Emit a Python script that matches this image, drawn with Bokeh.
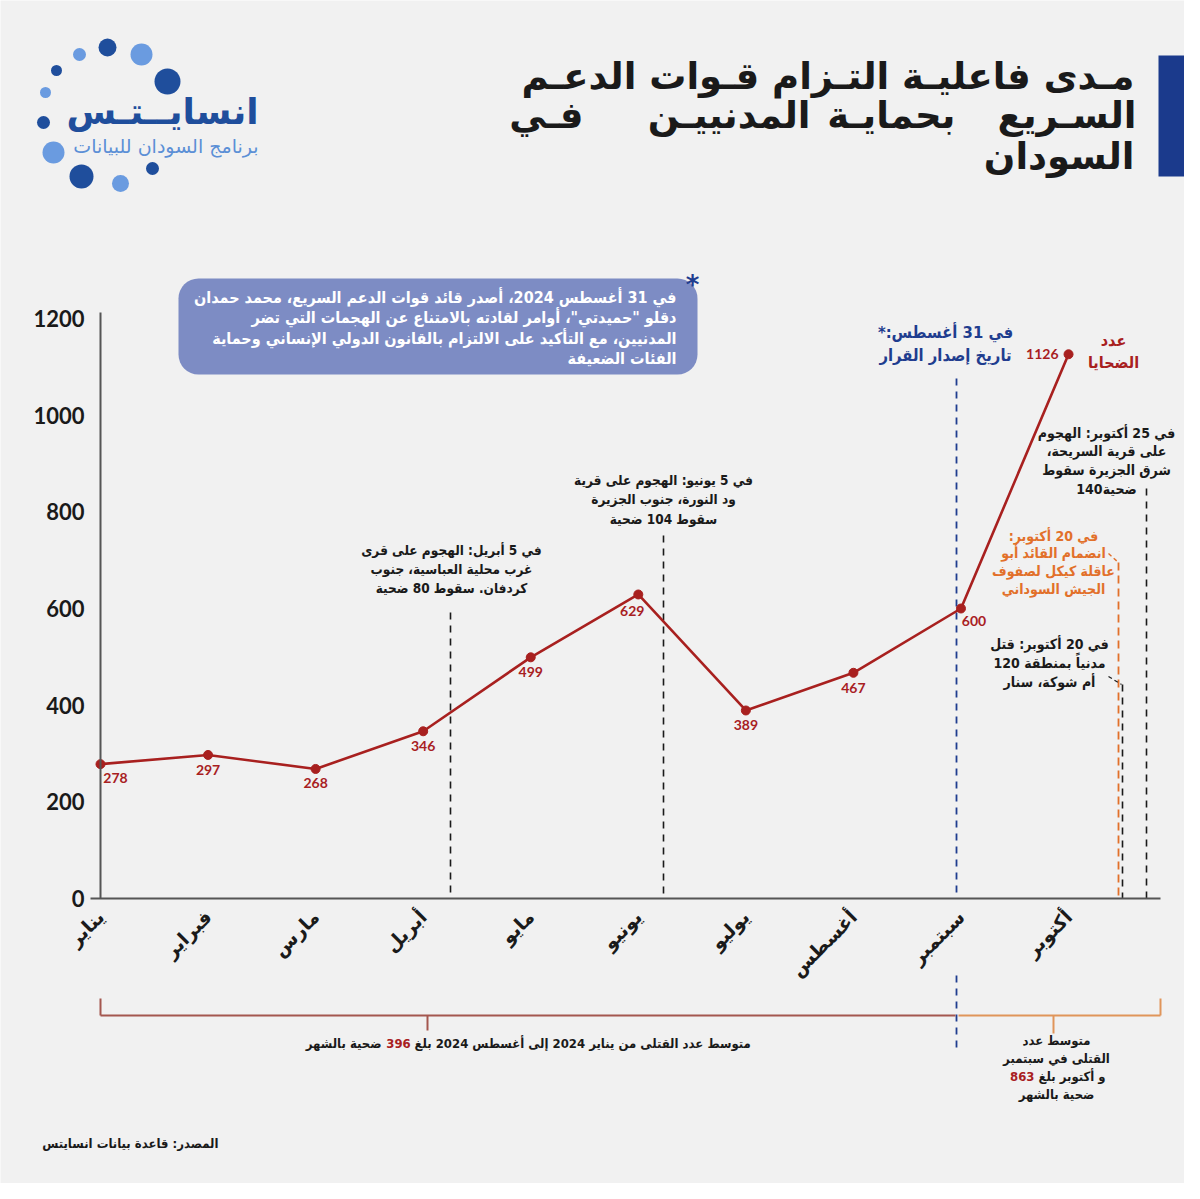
import math
from bokeh.plotting import figure
from bokeh.models import Range1d, LinearAxis, FixedTicker, BoxAnnotation
from bokeh.core.properties import value
from bokeh.embed import file_html
from bokeh.resources import INLINE

# ---------------- data ----------------
months = ["يناير", "فبراير", "مارس", "أبريل", "مايو", "يونيو", "يوليو", "أغسطس", "سبتمبر", "أكتوبر"]
victims = [278, 297, 268, 346, 499, 629, 389, 467, 600, 1126]
y_ticks = [0, 200, 400, 600, 800, 1000, 1200]
avg_jan_aug = 396
avg_sep_oct = 863

# ---------------- styles ----------------
BG = "#f1f1f1"
RED = "#a8201f"
ORANGE = "#e2702a"
BLUE = "#1f3d8f"
INK = "#1a1a1a"
AR = "DejaVu Sans"
ARC = "DejaVu Sans Condensed"
RLM = "\u200f"

W, H = 1184, 1183
# pixel layout of the reference picture (picture px -> data)
X0_PX, MONTH_PX = 100.0, 107.56
Y0_PX, UNIT_PX = 898.0, 580.0 / 1200.0


def X(px):
    return (px - X0_PX) / MONTH_PX


def Y(py):
    return (Y0_PX - py) / UNIT_PX


p = figure(width=W, height=H,
           x_range=Range1d(X(0), X(W)), y_range=Range1d(Y(H), Y(0)),
           output_backend="svg", toolbar_location=None,
           x_axis_type=None, y_axis_type=None, min_border=0,
           background_fill_color=BG, border_fill_color=BG, outline_line_color=None)

# ---------------- axes ----------------
xaxis = LinearAxis(fixed_location=0,
                   ticker=FixedTicker(ticks=list(range(len(months)))),
                   major_label_overrides={i: m for i, m in enumerate(months)},
                   bounds=(X(90), X(1160)))
xaxis.axis_line_color = "#555555"
xaxis.axis_line_width = 2
xaxis.major_tick_line_color = None
xaxis.minor_tick_line_color = None
xaxis.major_label_orientation = math.pi / 4
xaxis.major_label_text_font = AR
xaxis.major_label_text_font_style = "bold"
xaxis.major_label_text_font_size = "19px"
xaxis.major_label_text_color = INK
xaxis.major_label_standoff = 9
p.add_layout(xaxis, "below")

yaxis = LinearAxis(fixed_location=0, ticker=FixedTicker(ticks=y_ticks), bounds=(0, 1212))
yaxis.axis_line_color = "#555555"
yaxis.axis_line_width = 2
yaxis.major_tick_line_color = None
yaxis.minor_tick_line_color = None
yaxis.major_label_text_font = "Lato"
yaxis.major_label_text_font_style = "bold"
yaxis.major_label_text_font_size = "22px"
yaxis.major_label_text_color = INK
yaxis.major_label_standoff = 10
p.add_layout(yaxis, "left")


def txt(lines, x_px, y_px, size, color=INK, align="center", lh=None, font=ARC, style="bold"):
    lh = lh if lh is not None else size * 1.3
    p.text(x=[X(x_px)] * len(lines), y=[Y(y_px + i * lh) for i in range(len(lines))],
           text=lines, text_font=value(font), text_font_size=f"{size}px",
           text_font_style=style, text_color=color, text_align=align, text_baseline="middle")


def seg(x0_px, y0_px, x1_px, y1_px, color, dash="7 6", width=1.6):
    p.segment(x0=[X(x0_px)], y0=[Y(y0_px)], x1=[X(x1_px)], y1=[Y(y1_px)],
              line_color=color, line_width=width, line_dash=dash)


# ---------------- boxes (underlay) ----------------
p.add_layout(BoxAnnotation(left=X(178), right=X(697), top=Y(278), bottom=Y(374),
                           fill_color="#7d8cc4", fill_alpha=1, line_color=None,
                           border_radius=20, level="underlay"))
p.add_layout(BoxAnnotation(left=X(1158), right=X(1200), top=Y(55), bottom=Y(176),
                           fill_color="#1b3a8c", fill_alpha=1, line_color=None, level="underlay"))

# ---------------- event markers ----------------
seg(450, 612, 450, 898, INK)
seg(663, 535, 663, 898, INK)
seg(956, 378, 956, 898, BLUE, "7 6", 1.8)
seg(956, 975, 956, 1052, BLUE, "7 6", 1.8)
seg(1118, 562, 1118, 898, ORANGE, "8 5", 1.8)
seg(1108, 553, 1118, 562, ORANGE, "4 3", 1.4)
seg(1122, 684, 1122, 898, INK)
seg(1108, 676, 1121, 684, INK, "4 3", 1.2)
seg(1146, 488, 1146, 898, INK)

# ---------------- series ----------------
idx = list(range(len(victims)))
p.line(idx, victims, line_color=RED, line_width=2.6)
p.scatter(idx, victims, size=9, fill_color=RED, line_color=RED)
dx = [15, 0, 0, 0, 0, -6, 0, 0, 13, -10]
dy = [14, 15, 14, 15, 15, 17, 15, 15, 12, 0]
p.text(x=idx, y=victims, text=[str(v) for v in victims], x_offset=dx, y_offset=dy,
       text_font=value("Lato"), text_font_style="bold", text_font_size="14px",
       text_color=RED, text_align=["center"] * 9 + ["right"], text_baseline="middle")

txt(["عدد", "الضحايا"], 1113, 340, 16, RED, lh=22)

# ---------------- annotations ----------------
txt(["في 5 أبريل: الهجوم على قرى", "غرب محلية العباسية، جنوب", "كردفان. سقوط 80 ضحية"],
    451, 549, 13.5, lh=19)
txt(["في 5 يونيو: الهجوم على قرية", "ود النورة، جنوب الجزيرة", "سقوط 104 ضحية"],
    663, 479, 13.5, lh=19.5)
txt(["في 25 أكتوبر: الهجوم", "على قرية السريحة،" + RLM, "شرق الجزيرة سقوط", "140ضحية"],
    1106, 432, 14, lh=18.7)
txt(["في 20 أكتوبر:" + RLM, "انضمام القائد أبو", "عاقلة كيكل لصفوف", "الجيش السوداني"],
    1053, 535, 14, ORANGE, lh=17.7)
txt(["في 20 أكتوبر: قتل", "120 مدنياً بمنطقة", "أم شوكة، سنار"], 1049, 643, 14, lh=19)
txt(["في 31 أغسطس:*" + RLM, "تاريخ إصدار القرار"], 945, 332, 16.5, BLUE, lh=23)

# info box text
txt(["في 31 أغسطس 2024، أصدر قائد قوات الدعم السريع، محمد حمدان",
     "دقلو \"حميدتي\"، أوامر لقادته بالامتناع عن الهجمات التي تضر",
     "المدنيين، مع التأكيد على الالتزام بالقانون الدولي الإنساني وحماية",
     "الفئات الضعيفة"], 676, 297, 16, "white", align="right", lh=20.3)
txt(["*"], 692, 284, 26, BLUE, font=AR)

# ---------------- bottom braces ----------------
BR = "#a4574f"
BO = "#e0955a"
yb = Y(1015)
p.segment(x0=[X(100), X(100), X(427)], y0=[yb, Y(998), yb],
          x1=[X(955), X(100), X(427)], y1=[yb, yb, Y(1030)], line_color=BR, line_width=2)
p.segment(x0=[X(958), X(1160), X(1053)], y0=[yb, Y(998), yb],
          x1=[X(1160), X(1160), X(1053)], y1=[yb, yb, Y(1033)], line_color=BO, line_width=2)

# average texts
txt([str(avg_jan_aug)], 398, 1043, 13, RED)
txt(["متوسط عدد القتلى من يناير 2024 إلى أغسطس 2024 بلغ"], 414, 1043, 13, align="left")
txt(["ضحية بالشهر"], 381, 1043, 13, align="right")

txt(["متوسط عدد", "القتلى في سبتمبر"], 1056, 1040, 13, lh=18)
txt([str(avg_sep_oct)], 1034, 1076, 13, RED, align="right")
txt(["و أكتوبر بلغ"], 1038, 1076, 13, align="left")
txt(["ضحية بالشهر"], 1056, 1094, 13)

txt(["المصدر: قاعدة بيانات انسايتس"], 218, 1143, 13, align="right")

# ---------------- title ----------------
txt(["مـدى فاعليـة التـزام قـوات الدعـم"], 1134, 76, 37, align="right", font=AR)
for word, right_px in [("السـريع", 1136), ("بحمايـة", 955), ("المدنييـن", 810), ("فـي", 583)]:
    txt([word], right_px, 115, 37, align="right", font=AR)
txt(["السودان"], 1134, 156, 37, align="right", font=AR)

# ---------------- logo ----------------
DARK_L, LIGHT_L = "#1f4e9c", "#6a9be0"
logo = [(107, 47, 9, DARK_L), (141, 54, 11, LIGHT_L), (79, 54, 6.5, LIGHT_L), (56, 70, 5.5, DARK_L),
        (167, 81, 13, DARK_L), (45, 92, 5.5, LIGHT_L), (43, 122, 6.5, DARK_L), (53, 152, 11, LIGHT_L),
        (81, 176, 12, DARK_L), (152, 168, 6.5, DARK_L), (120, 183, 8.5, LIGHT_L)]
p.scatter(x=[X(a[0]) for a in logo], y=[Y(a[1]) for a in logo], size=[2 * a[2] for a in logo],
          fill_color=[a[3] for a in logo], line_color=None)
txt(["انسايــتـس"], 258, 111, 36, DARK_L, align="right", font=AR)
txt(["برنامج السودان للبيانات"], 258, 145, 19, "#5b8fd6", align="right", font=AR, style="normal")

open("out.html", "w").write(file_html(p, INLINE))
